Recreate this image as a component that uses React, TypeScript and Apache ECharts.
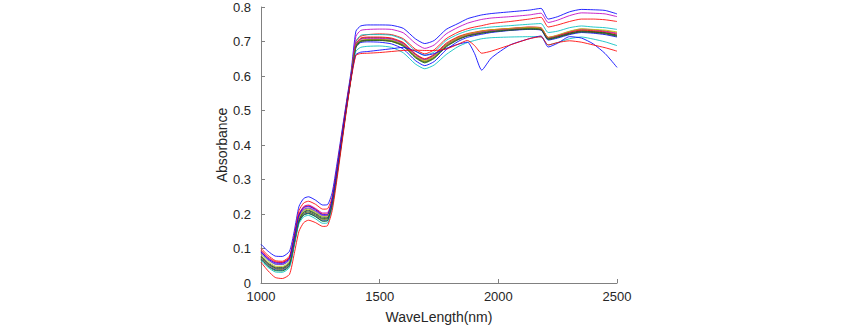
import React, { useEffect, useRef } from "react";
import * as echarts from "echarts";

const wavelengths = [
  1000, 1030, 1060, 1090, 1120, 1140, 1160, 1180, 1200, 1230, 1260, 1280, 1300, 1320,
  1340, 1360, 1380, 1400, 1420, 1450, 1500, 1550, 1600, 1650, 1690, 1730, 1780, 1830,
  1870, 1900, 1930, 1970, 2050, 2130, 2180, 2210, 2250, 2300, 2350, 2400, 2450, 2500,
];

const xTicks = [1000, 1500, 2000, 2500];
const yTicks = [0, 0.1, 0.2, 0.3, 0.4, 0.5, 0.6, 0.7, 0.8];

const blueTop = [
  0.112, 0.092, 0.078, 0.077, 0.092, 0.15, 0.222, 0.245, 0.25, 0.24, 0.226, 0.227, 0.262, 0.345, 0.435, 0.525, 0.615, 0.73,
  0.745, 0.748, 0.748, 0.747, 0.738, 0.708, 0.694, 0.703, 0.735, 0.752, 0.766, 0.772, 0.777, 0.781, 0.786, 0.791, 0.796, 0.765, 0.772, 0.786, 0.793, 0.792, 0.79, 0.78,
];
const magentaTop = [
  0.092, 0.072, 0.06, 0.059, 0.074, 0.13, 0.2, 0.222, 0.226, 0.216, 0.203, 0.204, 0.24, 0.325, 0.42, 0.515, 0.605, 0.715,
  0.732, 0.735, 0.736, 0.735, 0.725, 0.695, 0.68, 0.69, 0.722, 0.741, 0.753, 0.759, 0.764, 0.768, 0.772, 0.777, 0.782, 0.755, 0.762, 0.775, 0.783, 0.782, 0.78, 0.772,
];
const redUpper = [
  0.1, 0.08, 0.065, 0.063, 0.078, 0.138, 0.21, 0.232, 0.237, 0.228, 0.214, 0.215, 0.25, 0.333, 0.428, 0.52, 0.605, 0.7,
  0.715, 0.72, 0.722, 0.72, 0.708, 0.678, 0.664, 0.676, 0.708, 0.727, 0.737, 0.742, 0.746, 0.752, 0.758, 0.765, 0.77, 0.742, 0.748, 0.758, 0.765, 0.765, 0.763, 0.758,
];
const cyanUpper = [
  0.085, 0.066, 0.054, 0.053, 0.066, 0.126, 0.19, 0.212, 0.216, 0.207, 0.194, 0.195, 0.232, 0.318, 0.415, 0.51, 0.6, 0.7,
  0.718, 0.72, 0.72, 0.718, 0.705, 0.673, 0.66, 0.67, 0.703, 0.721, 0.731, 0.736, 0.739, 0.742, 0.746, 0.75, 0.752, 0.726, 0.73, 0.74, 0.745, 0.742, 0.74, 0.735,
];
const greenA = [
  0.076, 0.056, 0.044, 0.043, 0.057, 0.118, 0.183, 0.205, 0.209, 0.2, 0.187, 0.188, 0.232, 0.318, 0.414, 0.51, 0.6, 0.688,
  0.702, 0.705, 0.706, 0.703, 0.69, 0.657, 0.642, 0.655, 0.688, 0.708, 0.718, 0.722, 0.726, 0.73, 0.735, 0.738, 0.736, 0.708, 0.714, 0.724, 0.731, 0.729, 0.726, 0.718,
];
const yellowA = [
  0.072, 0.052, 0.04, 0.039, 0.053, 0.115, 0.18, 0.2, 0.204, 0.195, 0.183, 0.184, 0.228, 0.315, 0.412, 0.508, 0.598, 0.686,
  0.698, 0.702, 0.703, 0.7, 0.688, 0.656, 0.641, 0.654, 0.687, 0.708, 0.719, 0.724, 0.728, 0.732, 0.736, 0.739, 0.737, 0.71, 0.717, 0.728, 0.735, 0.733, 0.731, 0.726,
];
const blackA = [
  0.078, 0.058, 0.046, 0.045, 0.059, 0.12, 0.185, 0.207, 0.211, 0.202, 0.19, 0.19, 0.234, 0.32, 0.415, 0.51, 0.6, 0.69,
  0.708, 0.711, 0.711, 0.708, 0.695, 0.663, 0.648, 0.661, 0.692, 0.712, 0.721, 0.725, 0.729, 0.733, 0.737, 0.74, 0.738, 0.71, 0.716, 0.725, 0.73, 0.728, 0.725, 0.719,
];
const blueA = [
  0.07, 0.05, 0.038, 0.037, 0.051, 0.113, 0.178, 0.198, 0.202, 0.193, 0.18, 0.181, 0.226, 0.313, 0.41, 0.507, 0.598, 0.684,
  0.697, 0.699, 0.698, 0.693, 0.678, 0.645, 0.63, 0.642, 0.676, 0.7, 0.712, 0.717, 0.721, 0.726, 0.732, 0.735, 0.733, 0.704, 0.71, 0.72, 0.726, 0.724, 0.72, 0.713,
];
const redA = [
  0.095, 0.075, 0.062, 0.06, 0.074, 0.133, 0.198, 0.22, 0.224, 0.214, 0.2, 0.2, 0.244, 0.328, 0.422, 0.515, 0.603, 0.693,
  0.71, 0.713, 0.713, 0.71, 0.697, 0.665, 0.65, 0.663, 0.695, 0.714, 0.723, 0.727, 0.731, 0.734, 0.738, 0.742, 0.74, 0.712, 0.717, 0.727, 0.733, 0.731, 0.728, 0.722,
];
const magentaA = [
  0.088, 0.068, 0.055, 0.054, 0.068, 0.128, 0.193, 0.214, 0.218, 0.209, 0.196, 0.196, 0.24, 0.325, 0.42, 0.513, 0.602, 0.692,
  0.706, 0.709, 0.709, 0.706, 0.693, 0.661, 0.646, 0.659, 0.69, 0.71, 0.72, 0.724, 0.728, 0.732, 0.737, 0.741, 0.739, 0.711, 0.718, 0.729, 0.736, 0.734, 0.73, 0.724,
];
const greenB = [
  0.068, 0.048, 0.036, 0.035, 0.049, 0.111, 0.176, 0.197, 0.201, 0.192, 0.179, 0.18, 0.225, 0.312, 0.41, 0.506, 0.597, 0.683,
  0.7, 0.703, 0.703, 0.7, 0.686, 0.653, 0.638, 0.651, 0.684, 0.705, 0.716, 0.72, 0.724, 0.728, 0.733, 0.736, 0.734, 0.706, 0.712, 0.722, 0.728, 0.727, 0.724, 0.716,
];
const yellowB = [
  0.082, 0.062, 0.049, 0.048, 0.062, 0.122, 0.188, 0.21, 0.214, 0.205, 0.192, 0.193, 0.237, 0.322, 0.417, 0.511, 0.601, 0.69,
  0.703, 0.706, 0.706, 0.703, 0.69, 0.658, 0.644, 0.657, 0.69, 0.711, 0.721, 0.726, 0.73, 0.734, 0.738, 0.741, 0.739, 0.712, 0.719, 0.73, 0.737, 0.735, 0.733, 0.728,
];
const blackB = [
  0.074, 0.054, 0.042, 0.041, 0.055, 0.116, 0.181, 0.202, 0.206, 0.197, 0.185, 0.186, 0.23, 0.316, 0.413, 0.509, 0.599, 0.687,
  0.701, 0.704, 0.704, 0.701, 0.688, 0.655, 0.64, 0.653, 0.686, 0.706, 0.716, 0.72, 0.724, 0.728, 0.733, 0.736, 0.734, 0.707, 0.713, 0.722, 0.728, 0.726, 0.722, 0.715,
];
const cyanLower = [
  0.065, 0.045, 0.032, 0.031, 0.045, 0.108, 0.172, 0.192, 0.196, 0.186, 0.173, 0.174, 0.22, 0.308, 0.406, 0.503, 0.595, 0.672,
  0.683, 0.686, 0.687, 0.683, 0.667, 0.635, 0.621, 0.632, 0.662, 0.685, 0.697, 0.703, 0.708, 0.711, 0.713, 0.714, 0.713, 0.69, 0.697, 0.708, 0.713, 0.707, 0.699, 0.688,
];
const redLower = [
  0.06, 0.035, 0.016, 0.013, 0.025, 0.085, 0.15, 0.175, 0.182, 0.175, 0.164, 0.166, 0.21, 0.3, 0.4, 0.5, 0.592, 0.66,
  0.665, 0.666, 0.668, 0.671, 0.674, 0.675, 0.674, 0.674, 0.678, 0.692, 0.703, 0.688, 0.666, 0.672, 0.69, 0.708, 0.714, 0.69, 0.697, 0.702, 0.698, 0.69, 0.682, 0.672,
];
const blueLower = [
  0.09, 0.07, 0.058, 0.057, 0.071, 0.13, 0.196, 0.218, 0.222, 0.212, 0.198, 0.198, 0.242, 0.326, 0.42, 0.513, 0.6, 0.662,
  0.669, 0.671, 0.675, 0.679, 0.683, 0.672, 0.66, 0.665, 0.68, 0.692, 0.698, 0.665, 0.617, 0.652, 0.69, 0.708, 0.716, 0.684, 0.695, 0.714, 0.71, 0.693, 0.665, 0.625,
];

const spectra: { name: string; color: string; values: number[] }[] = [
  { name: "s1", color: "#0000ff", values: blueTop },
  { name: "s2", color: "#008000", values: greenA },
  { name: "s3", color: "#ff0000", values: redUpper },
  { name: "s4", color: "#00bfbf", values: cyanUpper },
  { name: "s5", color: "#bf00bf", values: magentaTop },
  { name: "s6", color: "#bfbf00", values: yellowA },
  { name: "s7", color: "#404040", values: blackA },
  { name: "s8", color: "#0000ff", values: blueA },
  { name: "s9", color: "#008000", values: greenB },
  { name: "s10", color: "#ff0000", values: redA },
  { name: "s11", color: "#00bfbf", values: cyanLower },
  { name: "s12", color: "#bf00bf", values: magentaA },
  { name: "s13", color: "#bfbf00", values: yellowB },
  { name: "s14", color: "#404040", values: blackB },
  { name: "s15", color: "#0000ff", values: blueLower },
  { name: "s16", color: "#ff0000", values: redLower },
];

export default function App() {
  const ref = useRef<HTMLDivElement>(null);
  useEffect(() => {
    if (!ref.current) return;
    const chart = echarts.init(ref.current, undefined, { renderer: "svg" });
    const axisColor = "#808080";
    const textColor = "#262626";
    chart.setOption({
      animation: false,
      backgroundColor: "#ffffff",
      grid: { left: 261, right: 233, top: 7, bottom: 41, containLabel: false },
      xAxis: {
        type: "value",
        min: xTicks[0],
        max: xTicks[xTicks.length - 1],
        interval: 500,
        name: "WaveLength(nm)",
        nameLocation: "middle",
        nameGap: 27,
        nameTextStyle: { fontFamily: "Liberation Sans, Arial", fontSize: 14, color: textColor },
        axisLine: { show: true, lineStyle: { color: axisColor, width: 1 } },
        axisTick: { show: true, inside: true, length: 4, lineStyle: { color: axisColor } },
        axisLabel: {
          fontFamily: "Liberation Sans, Arial",
          fontSize: 13,
          lineHeight: 13,
          color: textColor,
          margin: 7,
          formatter: (v: number) => String(Math.round(v)),
        },
        splitLine: { show: false },
      },
      yAxis: {
        type: "value",
        min: yTicks[0],
        max: yTicks[yTicks.length - 1],
        interval: 0.1,
        name: "Absorbance",
        nameLocation: "middle",
        nameGap: 25,
        nameTextStyle: { fontFamily: "Liberation Sans, Arial", fontSize: 14, color: textColor },
        axisLine: { show: true, lineStyle: { color: axisColor, width: 1 } },
        axisTick: { show: true, inside: true, length: 4, lineStyle: { color: axisColor } },
        axisLabel: {
          fontFamily: "Liberation Sans, Arial",
          fontSize: 13,
          lineHeight: 13,
          color: textColor,
          margin: 10,
          formatter: (v: number) => String(+v.toFixed(1)),
        },
        splitLine: { show: false },
      },
      series: spectra.map((s) => ({
        name: s.name,
        type: "line",
        data: wavelengths.map((w, i) => [w, s.values[i]]),
        showSymbol: false,
        symbol: "none",
        smooth: 0.2,
        lineStyle: { color: s.color, width: 1, opacity: 0.85 },
        itemStyle: { color: s.color },
      })),
    });
    return () => chart.dispose();
  }, []);
  return (
    <div
      ref={ref}
      style={{ position: "fixed", left: 0, top: 0, width: 850, height: 329 }}
    />
  );
}
